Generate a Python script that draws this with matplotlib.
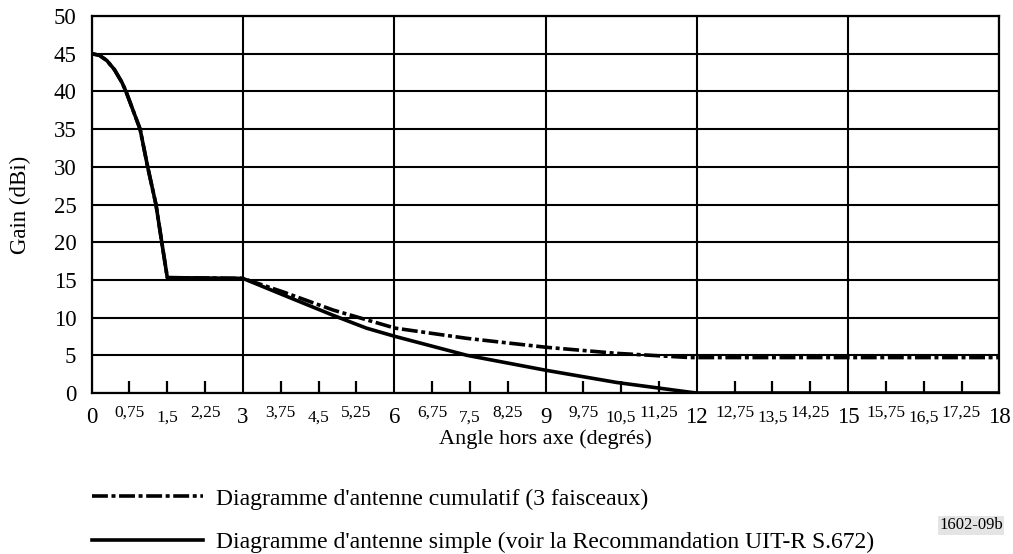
import matplotlib
matplotlib.use("Agg")
import matplotlib.pyplot as plt
from matplotlib.lines import Line2D

plt.rcParams['font.family'] = ['Liberation Serif', 'DejaVu Serif']

# Off-axis angle (degrees) and gain (dBi) for the single antenna pattern
simple_x = [0, 0.15, 0.3, 0.45, 0.6, 0.68, 0.82, 0.96, 1.11, 1.275, 1.39, 1.5, 3.0,
            3.8, 4.79, 5.45, 6.02, 7.44, 9.02, 10.41, 11.87, 12.0, 18.0]
simple_y = [45, 44.8, 44.1, 42.9, 41.2, 40, 37.5, 35, 30, 25, 20, 15.3, 15.2,
            13.0, 10.3, 8.6, 7.5, 5.0, 3.0, 1.4, 0.1, 0, 0]

# Cumulative pattern (3 beams)
cumul_x = [0, 0.15, 0.3, 0.45, 0.6, 0.68, 0.82, 0.96, 1.11, 1.275, 1.39, 1.5, 3.0,
           3.8, 4.79, 6.02, 7.44, 9.02, 10.41, 11.87, 12.0, 18.0]
cumul_y = [45, 44.8, 44.1, 42.9, 41.2, 40, 37.5, 35, 30, 25, 20, 15.3, 15.2,
           13.4, 11.0, 8.6, 7.25, 6.06, 5.26, 4.7, 4.7, 4.7]

major_x = [0, 3, 6, 9, 12, 15, 18]
major_y = [0, 5, 10, 15, 20, 25, 30, 35, 40, 45, 50]
minor_x = [0.75, 1.5, 2.25, 3.75, 4.5, 5.25, 6.75, 7.5, 8.25, 9.75, 10.5, 11.25,
           12.75, 13.5, 14.25, 15.75, 16.5, 17.25]
minor_labels = ['0,75', '1,5', '2,25', '3,75', '4,5', '5,25', '6,75', '7,5', '8,25',
                '9,75', '10,5', '11,25', '12,75', '13,5', '14,25', '15,75', '16,5', '17,25']

label_simple = "Diagramme d'antenne simple (voir la Recommandation UIT-R S.672)"
label_cumul = "Diagramme d'antenne cumulatif (3 faisceaux)"

fig = plt.figure(figsize=(10.13, 5.54), dpi=100)
ax = fig.add_axes([0.0905, 0.2906, 0.896, 0.6805])

lw = 2.6
dashdot = (0, (4.4, 1.0, 1.1, 1.0))
ax.plot(simple_x, simple_y, color='black', lw=lw, solid_joinstyle='round', zorder=3)
ax.plot(cumul_x, cumul_y, color='black', lw=lw, linestyle=dashdot, zorder=4)

ax.set_xlim(0, 18)
ax.set_ylim(0, 50)
ax.set_xticks(major_x)
ax.set_xticklabels([str(v) for v in major_x], fontsize=16.5)
ax.set_yticks(major_y)
ax.set_yticklabels([str(v) for v in major_y], fontsize=16.5)
ax.set_xticks(minor_x, minor=True)
ax.tick_params(which='major', length=0)
ax.tick_params(axis='x', which='major', pad=10)
ax.tick_params(axis='y', which='major', pad=11)
ax.tick_params(which='minor', direction='in', length=9, width=1.6, color='black')
ax.grid(True, which='major', color='black', lw=1.5)
ax.set_axisbelow(True)
for sp in ax.spines.values():
    sp.set_linewidth(1.6)

# staggered labels for the intermediate angles
for i, (xv, lab) in enumerate(zip(minor_x, minor_labels)):
    dy = -17 if i % 3 != 1 else -20.7
    ax.annotate(lab, xy=(xv, 0), xycoords=('data', 'axes fraction'),
                xytext=(0, dy), textcoords='offset points',
                ha='center', va='baseline', fontsize=12.5)

ax.set_xlabel('Angle hors axe (degrés)', fontsize=16)
ax.xaxis.set_label_coords(0.5, -0.095)
ax.set_ylabel('Gain (dBi)', fontsize=16.5)
ax.yaxis.set_label_coords(-0.067, 0.5)

handles = [Line2D([], [], color='black', lw=lw, linestyle=dashdot),
           Line2D([], [], color='black', lw=lw)]
fig.legend(handles, [label_cumul, label_simple], loc='upper left',
           bbox_to_anchor=(0.0905, 0.119), frameon=False, fontsize=17,
           handlelength=4.7, handletextpad=0.55, labelspacing=0.93,
           borderpad=0, borderaxespad=0)

fig.text(0.99, 0.052, '1602-09b', ha='right', va='center', fontsize=12,
         bbox=dict(facecolor='#e4e4e4', edgecolor='none', pad=1))

fig.savefig('out.png', dpi=100)
